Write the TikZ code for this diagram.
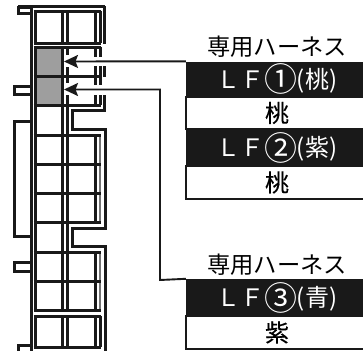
\documentclass[tikz,border=0pt]{standalone}
\usepackage{fontspec}
\usetikzlibrary{arrows.meta}
\newfontfamily\jpfont{Noto Sans CJK JP}
\newfontfamily\jpheavy[FakeBold=0.4]{Noto Sans CJK JP}
\newcommand{\ringed}[1]{\raisebox{-3.4pt}{\fontsize{33}{33}\selectfont #1}}
\begin{document}
\begin{tikzpicture}[x=1pt,y=-1pt,
  wall/.style={line width=3pt,black!90,line cap=butt},
  thinwall/.style={line width=1.8pt,black!55},
  cell/.style={draw=none,fill=black!38,minimum width=27pt,minimum height=29pt,inner sep=0pt},
  head/.style={font=\jpfont\fontsize{23.3}{23.3}\selectfont,inner sep=0pt},
  band/.style={fill=black!90,text=white,minimum width=182pt,inner sep=0pt,font=\jpfont\fontsize{24}{24}\selectfont},
  plain/.style={draw=black!90,line width=1.6pt,fill=white,minimum width=182pt,inner sep=0pt,font=\jpheavy\fontsize{24}{24}\selectfont},
  lead/.style={line width=1.9pt,black!90},
  tip/.style={-{Stealth[length=14pt,width=13pt,inset=2.5pt]}}
]
\useasboundingbox (0,0) rectangle (363,351);
\fill[white] (0,0) rectangle (363,351);
% shaded cavities
\node[cell] (g1) at (48.5,61.5) {};
\node[cell] (g2) at (48.5,90.5) {};
% outer shell
\draw[wall] (18,7) rectangle (31,13);
\draw[wall] (18,6.5) -- (105,6.5);
\draw[wall] (31,6) -- (31,351);
\draw[wall] (104.5,6) -- (104.5,44);
\draw[wall] (104.5,66) -- (104.5,77);
\draw[wall] (104.5,95) -- (104.5,110.5) -- (72,110.5) -- (72,129.5) -- (105,129.5) -- (105,228) -- (72,228) -- (72,246) -- (105,246) -- (105,351);
\draw[wall] (31,86) -| (14,94) -- (31,94);
\draw[wall] (31,121) -| (14,236) -- (31,236);
\draw[wall] (31,262.5) -| (14,271) -- (31,271);
\draw[wall] (31,345.5) -| (18,351);
% inner walls, vertical
\foreach \a/\b in {11/43,47/310,316/347} \draw[wall] (35,\a) -- (35,\b);
\foreach \a/\b in {11/43,47/310,316/347} \draw[wall] (62.5,\a) -- (62.5,\b);
\foreach \a/\b in {11/43,47/55,67/83,95/310,316/347} \draw[wall] (67,\a) -- (67,\b);
\foreach \a/\b in {11/43,47/57,66/85,95/105,135/222,252/310,316/347} \draw[wall] (95,\a) -- (95,\b);
\foreach \a/\b in {11/43,47/57,66/85,95/105,316/347} \draw[wall] (100,\a) -- (100,\b);
\foreach \a/\b in {135/222,252/310} \draw[thinwall] (100,\a) -- (100,\b);
% inner walls, horizontal
\foreach \y in {11,43,47,76.5,105,135,164,193,222,252,281,310,316,347}
  \draw[wall] (33.5,\y) -- (101,\y);
% labels
\node[head] (h1) at (277,47) {専用ハーネス};
\node[band,minimum height=35pt] (b1) at (277,79) {ＬＦ\ringed{①}\kern-1pt(桃)};
\node[plain,minimum height=32pt] (p1) at (277,113) {桃};
\node[band,minimum height=37pt] (b2) at (277,147.5) {ＬＦ\ringed{②}\kern-1pt(紫)};
\node[plain,minimum height=33pt] (p2) at (277,182.5) {桃};
\node[head] (h2) at (277,265) {専用ハーネス};
\node[band,minimum height=37pt] (b3) at (277,297.5) {ＬＦ\ringed{③}\kern-1pt(青)};
\node[plain,minimum height=33pt] (p3) at (277,332.5) {紫};
% leaders
\coordinate (t1) at (64,61.5);
\coordinate (t2) at (64,89.5);
\draw[lead,tip] (b1.north west) -- (t1);
\draw[lead,tip] (b3.north west) -- (160,280) -- (160,89.5) -- (t2);
\end{tikzpicture}
\end{document}
